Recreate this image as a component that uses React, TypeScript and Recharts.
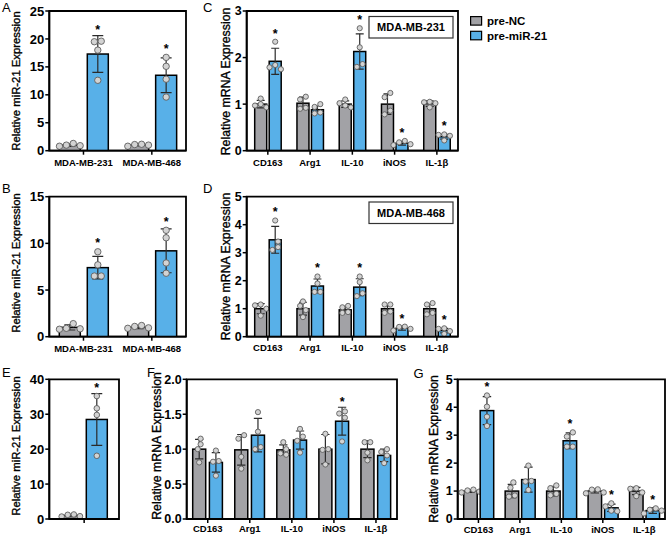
import React from 'react';
import { BarChart, Bar, XAxis, YAxis, Legend, ReferenceArea } from 'recharts';

const FONT = '"Liberation Sans", Arial, Helvetica, sans-serif';
const NC_COLOR = '#a2a2a6';
const MI_COLOR = '#58b0e8';
const SERIES_NAMES = ['pre-NC', 'pre-miR-21'];

// ---------- Panel A ----------
const aCats = ['MDA-MB-231', 'MDA-MB-468'];
const aNcMean = [1.0, 1.0];
const aNcSd = [0.22, 0.16];
const aNcPts = [[0.8, 1.3, 1.0, 0.9], [0.8, 1.1, 1.0, 1.15]];
const aMiMean = [17.3, 13.5];
const aMiSd = [3.3, 3.1];
const aMiPts = [[19.5, 19.6, 18.0, 12.6], [16.7, 15.1, 12.8, 9.6]];
const aSig = [true, true];
const aTicks = [0, 5, 10, 15, 20, 25];

// ---------- Panel B ----------
const bCats = ['MDA-MB-231', 'MDA-MB-468'];
const bNcMean = [1.0, 1.0];
const bNcSd = [0.28, 0.13];
const bNcPts = [[1.4, 0.85, 0.8, 0.9], [0.9, 1.2, 1.1, 0.95]];
const bMiMean = [7.4, 9.2];
const bMiSd = [1.2, 2.35];
const bMiPts = [[9.1, 7.7, 6.5, 6.5], [11.4, 10.6, 7.9, 6.8]];
const bSig = [true, true];
const bTicks = [0, 5, 10, 15];

// ---------- Panel C ----------
const cCats = ['CD163', 'Arg1', 'IL-10', 'iNOS', 'IL-1β'];
const cNcMean = [1.0, 1.02, 1.0, 1.0, 1.01];
const cNcSd = [0.08, 0.13, 0.07, 0.22, 0.06];
const cNcPts = [[1.12, 1.0, 0.97, 0.93], [1.1, 1.16, 0.9, 0.92], [1.1, 1.02, 0.93, 0.97], [1.15, 1.24, 0.86, 0.78], [1.05, 1.04, 1.02, 0.93]];
const cMiMean = [1.92, 0.88, 2.13, 0.16, 0.3];
const cMiSd = [0.28, 0.08, 0.38, 0.04, 0.05];
const cMiPts = [[2.34, 1.84, 1.75, 1.79], [0.94, 1.0, 0.82, 0.8], [2.63, 2.22, 1.86, 1.8], [0.21, 0.14, 0.18, 0.12], [0.34, 0.35, 0.32, 0.22]];
const cSig = [true, false, true, true, true];
const cTicks = [0, 1, 2, 3];

// ---------- Panel D ----------
const dCats = ['CD163', 'Arg1', 'IL-10', 'iNOS', 'IL-1β'];
const dNcMean = [1.0, 1.0, 0.96, 1.0, 1.0];
const dNcSd = [0.18, 0.23, 0.1, 0.12, 0.17];
const dNcPts = [[1.15, 1.12, 1.0, 0.75], [1.1, 1.26, 0.95, 0.7], [1.05, 1.1, 0.88, 0.85], [1.15, 1.15, 0.9, 0.85], [1.15, 1.2, 0.85, 0.8]];
const dMiMean = [3.46, 1.81, 1.77, 0.3, 0.22];
const dMiSd = [0.48, 0.25, 0.3, 0.07, 0.08];
const dMiPts = [[4.15, 3.4, 3.2, 3.1], [2.15, 1.9, 1.6, 1.6], [2.15, 1.95, 1.55, 1.45], [0.35, 0.36, 0.28, 0.22], [0.3, 0.28, 0.2, 0.1]];
const dSig = [true, true, true, true, true];
const dTicks = [0, 1, 2, 3, 4, 5];

// ---------- Panel E ----------
const eCats = [''];
const eNcMean = [1.0];
const eNcSd = [0.3];
const eNcPts = [[0.7, 1.3, 0.8, 1.2]];
const eMiMean = [28.5];
const eMiSd = [7.4];
const eMiPts = [[35.2, 31.7, 29.8, 18.1]];
const eSig = [true];
const eTicks = [0, 10, 20, 30, 40];

// ---------- Panel F ----------
const fCats = ['CD163', 'Arg1', 'IL-10', 'iNOS', 'IL-1β'];
const fNcMean = [1.0, 0.99, 0.99, 1.0, 1.0];
const fNcSd = [0.14, 0.22, 0.07, 0.21, 0.12];
const fNcPts = [[1.15, 1.07, 1.0, 0.81], [1.15, 1.2, 0.89, 0.72], [1.1, 1.0, 0.92, 0.94], [1.22, 0.99, 1.0, 0.78], [1.1, 1.1, 0.95, 0.84]];
const fMiMean = [0.81, 1.2, 1.13, 1.4, 0.91];
const fMiSd = [0.14, 0.24, 0.13, 0.2, 0.09];
const fMiPts = [[0.98, 0.83, 0.82, 0.62], [1.53, 1.25, 1.03, 1.0], [1.29, 1.18, 1.12, 0.95], [1.51, 1.54, 1.45, 1.11], [0.96, 1.0, 0.91, 0.8]];
const fSig = [false, false, false, true, false];
const fTicks = [0, 0.5, 1.0, 1.5, 2.0];

// ---------- Panel G ----------
const gCats = ['CD163', 'Arg1', 'IL-10', 'iNOS', 'IL-1β'];
const gNcMean = [1.0, 1.0, 1.0, 1.0, 1.0];
const gNcSd = [0.05, 0.24, 0.17, 0.07, 0.13];
const gNcPts = [[0.95, 1.02, 1.05, 0.98], [1.31, 1.12, 0.8, 0.84], [1.1, 1.2, 0.85, 0.9], [1.06, 1.05, 0.95, 0.92], [1.1, 1.08, 0.95, 0.82]];
const gMiMean = [3.88, 1.41, 2.8, 0.4, 0.3];
const gMiSd = [0.5, 0.45, 0.28, 0.13, 0.1];
const gMiPts = [[4.42, 4.02, 3.66, 3.33], [1.91, 1.36, 1.34, 1.04], [2.95, 3.1, 2.59, 2.59], [0.56, 0.45, 0.3, 0.28], [0.38, 0.33, 0.3, 0.2]];
const gSig = [true, false, true, true, true];
const gTicks = [0, 1, 2, 3, 4, 5];

const MIR_LABEL = 'Relative miR-21 Expression';
const MRNA_LABEL = 'Relative mRNA Expression';

function buildRows(cats: string[], ncMean: number[], ncSd: number[], ncPts: number[][], miMean: number[], miSd: number[], miPts: number[][], miSig: boolean[]) {
  return cats.map((cat, i) => ({
    cat,
    nc: ncMean[i], ncSd: ncSd[i], ncPts: ncPts[i], ncSig: false,
    mi: miMean[i], miSd: miSd[i], miPts: miPts[i], miSig: miSig[i],
  }));
}

function swarm(ys: number[], r: number) {
  const d = 2 * r + 0.5;
  const items = ys.map((y, i) => ({ y, dx: 0, i }));
  const order = [...items].sort((a, b) => a.y - b.y);
  const placed: { y: number; dx: number }[] = [];
  for (const p of order) {
    for (let s = 0; s < 24; s++) {
      const c = s === 0 ? 0 : (s % 2 === 1 ? -1 : 1) * Math.ceil(s / 2) * d / 2;
      if (placed.every((q) => Math.hypot(q.dx - c, q.y - p.y) >= d * 0.92)) { p.dx = c; break; }
    }
    placed.push(p);
  }
  let group: typeof items = [];
  const flush = () => {
    if (group.length > 1) {
      const mn = Math.min(...group.map((g) => g.dx));
      const mx = Math.max(...group.map((g) => g.dx));
      const sh = -(mn + mx) / 2;
      group.forEach((g) => { g.dx += sh; });
    }
    group = [];
  };
  for (const p of order) {
    if (group.length && p.y - group[group.length - 1].y >= d) flush();
    group.push(p);
  }
  flush();
  return items;
}

function makeShape(prefix: 'nc' | 'mi', color: string, r: number) {
  return (props: any) => {
    const { x, y, width, height, payload } = props;
    const mean: number = payload[prefix];
    const sd: number = payload[prefix + 'Sd'];
    const pts: number[] = payload[prefix + 'Pts'];
    const sig: boolean = payload[prefix + 'Sig'];
    const base = y + height;
    const k = mean > 0 ? height / mean : 0;
    const Y = (v: number) => base - v * k;
    const cx = x + width / 2;
    const cap = 4 + width * 0.33;
    const yTop = Y(mean + sd);
    const yBot = Y(Math.max(0, mean - sd));
    const dots = swarm(pts.map(Y), r);
    const topMost = Math.min(yTop, ...dots.map((d) => d.y - r));
    return (
      <g>
        <rect x={x} y={y} width={width} height={height} fill={color} stroke="#000" strokeWidth={1.5} />
        <line x1={cx} x2={cx} y1={yTop} y2={yBot} stroke="#2a2a2a" strokeWidth={1.2} />
        <line x1={cx - cap / 2} x2={cx + cap / 2} y1={yTop} y2={yTop} stroke="#2a2a2a" strokeWidth={1.2} />
        <line x1={cx - cap / 2} x2={cx + cap / 2} y1={yBot} y2={yBot} stroke="#2a2a2a" strokeWidth={1.2} />
        {dots.map((d) => (
          <circle key={d.i} cx={cx + d.dx} cy={d.y} r={r} fill="#d3d3d3" stroke="#5e5e5e" strokeWidth={0.9} />
        ))}
        {sig && (
          <text x={cx} y={topMost - 1.5} textAnchor="middle" fontSize={12.5} fontWeight={700} fontFamily={FONT} fill="#000">*</text>
        )}
      </g>
    );
  };
}

const LegendContent = (props: any) => {
  const items = props.payload || [];
  return (
    <svg width={90} height={26} style={{ display: 'block', overflow: 'visible' }}>
      {items.map((it: any, i: number) => (
        <g key={i}>
          <rect x={0.6} y={0.6 + i * 14.7} width={11} height={8.5} fill={it.color} stroke="#000" strokeWidth={1.2} />
          <text x={17} y={4.9 + i * 14.7} dominantBaseline="central" fontSize={11.5} fontWeight={700} fontFamily={FONT} fill="#000">{it.value}</text>
        </g>
      ))}
    </svg>
  );
};

type Frame = { x: number; y: number; w: number; h: number };
type Plot = { l: number; t: number; r: number; b: number };

function Panel(p: {
  frame: Frame; plot: Plot; rows: any[]; yMax: number; yTicks: number[];
  barSize: number; barGap: number; tickMargin: number;
  r: number; yFont: number; fmt?: (v: number) => string; legend?: boolean;
}) {
  const { frame, plot } = p;
  const margin = { top: plot.t - frame.y, left: 0, right: frame.x + frame.w - plot.r, bottom: 0 };
  const yW = plot.l - frame.x;
  const xH = frame.y + frame.h - plot.b;
  const axisLine = { stroke: '#000', strokeWidth: 1.8 };
  const first = p.rows[0].cat;
  const last = p.rows[p.rows.length - 1].cat;
  return (
    <div style={{ position: 'absolute', left: frame.x, top: frame.y }}>
      <BarChart width={frame.w} height={frame.h} data={p.rows} margin={margin} barSize={p.barSize} barGap={p.barGap}>
        <ReferenceArea x1={first} x2={last} y1={0} y2={p.yMax} fill="none" fillOpacity={0}
          stroke="#000" strokeWidth={1.8} ifOverflow="visible" />
        <XAxis
          dataKey="cat" interval={0} height={xH} tickSize={4} tickMargin={p.tickMargin}
          axisLine={axisLine} tickLine={{ stroke: '#000', strokeWidth: 1.5 }}
          tick={{ fontSize: 9.5, fontWeight: 700, fill: '#000', fontFamily: FONT }}
        />
        <YAxis
          type="number" domain={[0, p.yMax]} ticks={p.yTicks} interval={0} width={yW} tickSize={4} tickMargin={1}
          allowDataOverflow axisLine={axisLine} tickLine={{ stroke: '#000', strokeWidth: 1.5 }}
          tickFormatter={p.fmt}
          tick={{ fontSize: p.yFont, fontWeight: 700, fill: '#000', fontFamily: FONT }}
        />
        <Bar dataKey="nc" name={SERIES_NAMES[0]} fill={NC_COLOR} shape={makeShape('nc', NC_COLOR, p.r)} isAnimationActive={false} activeBar={false} />
        <Bar dataKey="mi" name={SERIES_NAMES[1]} fill={MI_COLOR} shape={makeShape('mi', MI_COLOR, p.r)} isAnimationActive={false} activeBar={false} />
        {p.legend && (
          <Legend
            layout="vertical" align="center" verticalAlign="middle"
            wrapperStyle={{ left: 269.5, top: 15.5, width: 90, height: 26 }}
            content={LegendContent}
          />
        )}
      </BarChart>
    </div>
  );
}

const rowsA = buildRows(aCats, aNcMean, aNcSd, aNcPts, aMiMean, aMiSd, aMiPts, aSig);
const rowsB = buildRows(bCats, bNcMean, bNcSd, bNcPts, bMiMean, bMiSd, bMiPts, bSig);
const rowsC = buildRows(cCats, cNcMean, cNcSd, cNcPts, cMiMean, cMiSd, cMiPts, cSig);
const rowsD = buildRows(dCats, dNcMean, dNcSd, dNcPts, dMiMean, dMiSd, dMiPts, dSig);
const rowsE = buildRows(eCats, eNcMean, eNcSd, eNcPts, eMiMean, eMiSd, eMiPts, eSig);
const rowsF = buildRows(fCats, fNcMean, fNcSd, fNcPts, fMiMean, fMiSd, fMiPts, fSig);
const rowsG = buildRows(gCats, gNcMean, gNcSd, gNcPts, gMiMean, gMiSd, gMiPts, gSig);

const letters = [
  { t: 'A', x: 2, y: 11.7 }, { t: 'C', x: 203, y: 11.7 },
  { t: 'B', x: 2, y: 193.3 }, { t: 'D', x: 203, y: 193.3 },
  { t: 'E', x: 2, y: 377 }, { t: 'F', x: 147, y: 377 }, { t: 'G', x: 413.5, y: 378.3 },
];
const yLabels = [
  { t: MIR_LABEL, x: 15.8, y: 81, fs: 11.3 },
  { t: MIR_LABEL, x: 15.5, y: 263, fs: 11.3 },
  { t: MIR_LABEL, x: 15.5, y: 446, fs: 11.3 },
  { t: MRNA_LABEL, x: 225.5, y: 81.5, fs: 12.3 },
  { t: MRNA_LABEL, x: 225.5, y: 266.5, fs: 12.3 },
  { t: MRNA_LABEL, x: 157, y: 446, fs: 12.3 },
  { t: MRNA_LABEL, x: 433.5, y: 449, fs: 12.3 },
];
const cellBoxes = [
  { t: 'MDA-MB-231', x: 369, y: 16.5, w: 84, h: 21.5 },
  { t: 'MDA-MB-468', x: 369, y: 202, w: 84, h: 21.5 },
];

export default function App() {
  return (
    <div style={{ position: 'absolute', left: 0, top: 0, width: 669, height: 537, background: '#fff', fontFamily: FONT, overflow: 'hidden' }}>
      <Panel frame={{ x: 0, y: 0, w: 200, h: 176 }} plot={{ l: 49.3, t: 11, r: 186, b: 150.7 }} rows={rowsA}
        yMax={25} yTicks={aTicks} barSize={21} barGap={7} tickMargin={4.5} r={3.2} yFont={13} />
      <Panel frame={{ x: 0, y: 180, w: 200, h: 176 }} plot={{ l: 49.3, t: 196.7, r: 186, b: 336.7 }} rows={rowsB}
        yMax={15} yTicks={bTicks} barSize={21} barGap={7} tickMargin={4.5} r={3.2} yFont={13} />
      <Panel frame={{ x: 200, y: 0, w: 340, h: 176 }} plot={{ l: 246.7, t: 11, r: 458, b: 150.7 }} rows={rowsC}
        yMax={3} yTicks={cTicks} barSize={12} barGap={2.5} tickMargin={4.5} r={2.6} yFont={12.5} legend />
      <Panel frame={{ x: 200, y: 180, w: 270, h: 176 }} plot={{ l: 246.7, t: 196.7, r: 458, b: 336.7 }} rows={rowsD}
        yMax={5} yTicks={dTicks} barSize={12} barGap={2.5} tickMargin={3.5} r={2.6} yFont={12.5} />
      <Panel frame={{ x: 0, y: 360, w: 130, h: 177 }} plot={{ l: 49.3, t: 379.3, r: 119, b: 519 }} rows={rowsE}
        yMax={40} yTicks={eTicks} barSize={21} barGap={5} tickMargin={3} r={2.8} yFont={13} />
      <Panel frame={{ x: 140, y: 360, w: 270, h: 177 }} plot={{ l: 186.7, t: 379.3, r: 397, b: 519 }} rows={rowsF}
        yMax={2} yTicks={fTicks} barSize={13} barGap={3.7} tickMargin={2} r={2.6} yFont={12.5}
        fmt={(v: number) => v.toFixed(1)} />
      <Panel frame={{ x: 415, y: 360, w: 254, h: 177 }} plot={{ l: 457.7, t: 379.3, r: 665, b: 519 }} rows={rowsG}
        yMax={5} yTicks={gTicks} barSize={13.5} barGap={3} tickMargin={3.5} r={2.7} yFont={12.5} />
      <svg width={669} height={537} style={{ position: 'absolute', left: 0, top: 0, pointerEvents: 'none' }}>
        {letters.map((l) => (
          <text key={l.t} x={l.x} y={l.y} fontSize={13} fontFamily={FONT} fill="#000">{l.t}</text>
        ))}
        {yLabels.map((l, i) => (
          <text key={i} x={l.x} y={l.y} fontSize={l.fs} fontFamily={FONT} fill="#000" stroke="#000" strokeWidth={0.35}
            textAnchor="middle" dominantBaseline="central" transform={`rotate(-90 ${l.x} ${l.y})`}>{l.t}</text>
        ))}
        {cellBoxes.map((b) => (
          <g key={b.t}>
            <rect x={b.x} y={b.y} width={b.w} height={b.h} fill="#fff" stroke="#333" strokeWidth={1.2} />
            <text x={b.x + b.w / 2} y={b.y + b.h / 2} textAnchor="middle" dominantBaseline="central" fontSize={11} fontWeight={700} fontFamily={FONT} fill="#000">{b.t}</text>
          </g>
        ))}
      </svg>
    </div>
  );
}
